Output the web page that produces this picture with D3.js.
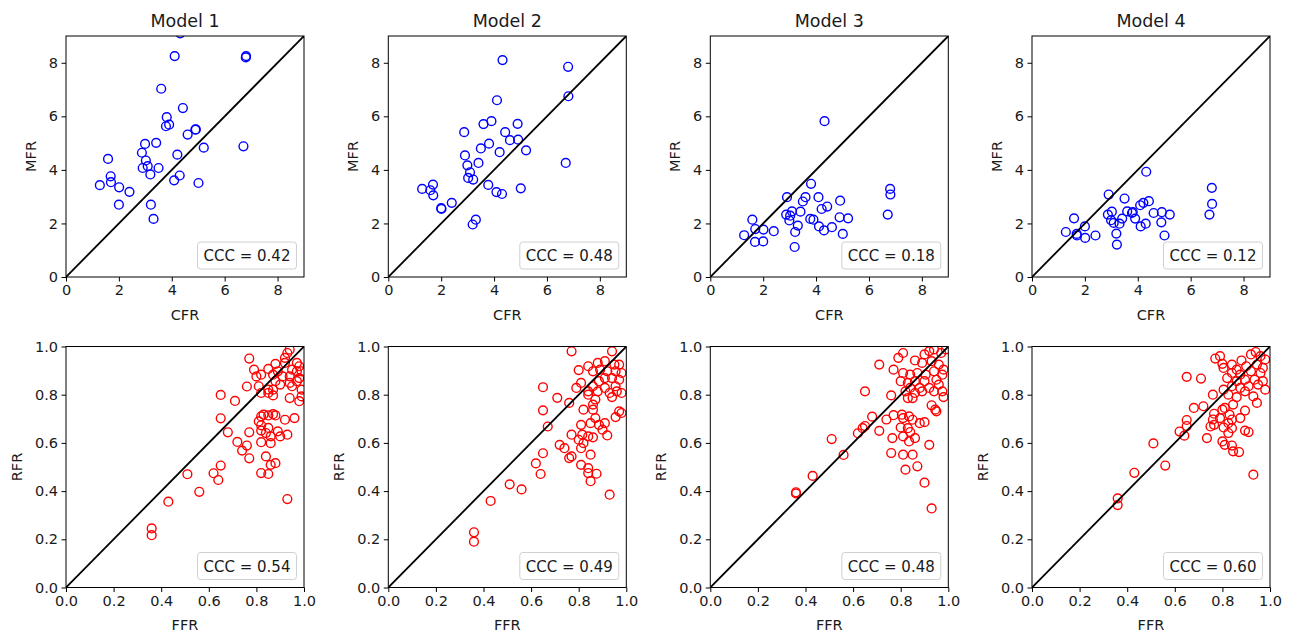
<!DOCTYPE html>
<html lang="en">
<head>
<meta charset="UTF-8">
<title>Model comparison</title>
<script src="https://d3js.org/d3.v7.min.js"></script>
<style>
  body { margin: 0; background: #fff; }
  svg text { font-family: "DejaVu Sans", sans-serif; fill: #1a1a1a; }
</style>
</head>
<body>
<div id="chart"></div>
<script>
const W = 1293, H = 633;

const models = ["Model 1", "Model 2", "Model 3", "Model 4"];

// top row: CFR (shared) vs MFR per model
const cfr = [1.28,1.59,1.69,1.70,2.00,2.01,2.40,2.87,2.90,2.99,3.02,3.09,3.19,3.21,3.31,3.41,3.50,3.60,
  3.78,3.81,3.90,4.09,4.11,4.21,4.30,4.32,4.42,4.60,4.89,4.91,5.01,5.21,6.71,6.80,6.81];
const mfr1 = [3.43,4.41,3.76,3.54,2.70,3.35,3.18,4.64,4.07,4.97,4.35,4.14,3.83,2.70,2.17,5.01,4.07,7.03,
  5.63,5.97,5.69,3.61,8.25,4.57,3.79,9.10,6.31,5.32,5.50,5.51,3.51,4.83,4.88,8.20,8.25];
const mfr2 = [3.29,3.24,3.45,3.05,2.57,2.54,2.77,5.41,4.54,4.17,3.70,3.91,1.96,3.64,2.14,4.26,4.80,5.71,
  3.44,4.98,5.82,3.17,6.60,4.66,3.10,8.10,5.41,5.11,5.72,5.13,3.31,4.73,4.26,7.85,6.75];
const mfr3 = [1.56,2.14,1.31,1.79,1.33,1.77,1.71,2.33,2.98,2.11,2.29,2.45,1.12,1.68,1.92,2.44,2.82,2.98,
  2.17,3.48,2.14,2.98,1.89,2.54,1.74,5.82,2.63,1.86,2.23,2.85,1.61,2.19,2.33,3.29,3.08];
const mfr4 = [1.68,2.19,1.61,1.55,1.89,1.46,1.55,2.33,3.08,2.12,2.44,2.02,1.62,1.21,1.99,2.18,2.93,2.45,
  2.39,2.42,2.18,2.68,1.89,2.77,1.99,3.93,2.83,2.39,2.04,2.42,1.55,2.33,2.33,3.33,2.73];

// bottom row: [FFR, RFR] pairs per model
const pts1 = [[0.36,0.245],[0.36,0.217],[0.43,0.356],[0.51,0.47],[0.56,0.397],[0.62,0.474],[0.64,0.446],
  [0.65,0.506],[0.65,0.702],[0.65,0.799],[0.68,0.644],[0.71,0.774],[0.72,0.604],[0.74,0.568],[0.76,0.589],
  [0.77,0.536],[0.77,0.644],[0.76,0.834],[0.77,0.95],[0.93,0.367],
  [0.79,0.904],[0.80,0.876],[0.82,0.883],[0.85,0.907],[0.88,0.928],[0.92,0.953],[0.93,0.973],[0.94,0.987],
  [0.92,0.932],[0.97,0.932],[0.98,0.918],[0.95,0.904],[0.97,0.897],[0.99,0.897],[0.89,0.897],[0.87,0.883],
  [0.91,0.876],[0.94,0.876],[0.98,0.869],[0.88,0.856],[0.90,0.842],[0.94,0.849],[0.97,0.856],[0.81,0.835],
  [0.85,0.821],[0.87,0.821],[0.85,0.807],[0.82,0.807],[0.87,0.797],[0.95,0.835],[0.99,0.821],[0.94,0.786],
  [0.98,0.773],[0.99,0.793],
  [0.82,0.71],[0.83,0.717],[0.85,0.714],[0.87,0.719],[0.88,0.714],[0.92,0.696],[0.96,0.703],[0.81,0.689],
  [0.82,0.673],[0.82,0.651],[0.85,0.662],[0.89,0.648],[0.84,0.641],[0.86,0.627],[0.90,0.627],[0.93,0.634],
  [0.82,0.603],[0.86,0.599],[0.84,0.544],[0.86,0.509],[0.88,0.516],[0.82,0.475],[0.85,0.471]];
const pts2 = [[0.36,0.229],[0.36,0.19],[0.43,0.359],[0.51,0.428],[0.56,0.407],[0.62,0.515],[0.64,0.471],
  [0.65,0.557],[0.77,0.98],[0.94,0.98],[0.80,0.902],[0.84,0.918],[0.88,0.932],[0.91,0.939],[0.95,0.925],
  [0.97,0.925],[0.86,0.897],[0.89,0.904],[0.92,0.897],[0.955,0.897],[0.98,0.89],[0.91,0.869],[0.94,0.869],
  [0.97,0.862],[0.81,0.849],[0.885,0.856],[0.86,0.835],[0.91,0.828],[0.955,0.835],[0.79,0.828],[0.84,0.814],
  [0.88,0.814],[0.93,0.807],[0.96,0.814],[0.98,0.807],[0.94,0.79],[0.84,0.80],[0.87,0.78],[0.86,0.759],
  [0.76,0.766],[0.65,0.831],[0.71,0.787],[0.65,0.735],[0.82,0.738],[0.86,0.738],[0.97,0.731],[0.98,0.724],
  [0.955,0.707],[0.87,0.703],[0.67,0.668],[0.81,0.675],[0.85,0.682],[0.885,0.675],[0.91,0.682],[0.90,0.655],
  [0.92,0.631],[0.77,0.634],[0.815,0.634],[0.84,0.627],[0.86,0.623],[0.80,0.613],[0.82,0.599],[0.72,0.592],
  [0.74,0.578],[0.81,0.578],[0.77,0.544],[0.76,0.537],[0.85,0.551],[0.81,0.509],[0.84,0.495],[0.84,0.475],
  [0.875,0.472],[0.85,0.441],[0.93,0.385]];
const pts3 = [[0.36,0.395],[0.36,0.39],[0.43,0.463],[0.51,0.616],[0.56,0.55],[0.62,0.64],[0.64,0.661],
  [0.65,0.67],[0.68,0.709],[0.71,0.65],[0.93,0.328],[0.90,0.435],
  [0.81,0.973],[0.79,0.953],[0.71,0.925],[0.77,0.904],[0.86,0.942],[0.90,0.967],[0.92,0.981],[0.94,0.988],
  [0.97,0.973],[0.99,0.988],[0.89,0.932],[0.93,0.939],[0.96,0.925],[0.98,0.904],[0.81,0.89],[0.84,0.883],
  [0.87,0.89],[0.905,0.883],[0.94,0.897],[0.975,0.883],[0.80,0.856],[0.83,0.849],[0.86,0.856],[0.90,0.856],
  [0.95,0.862],[0.96,0.842],[0.84,0.828],[0.88,0.828],[0.92,0.828],[0.975,0.814],[0.82,0.814],[0.86,0.807],
  [0.89,0.814],[0.94,0.814],[0.98,0.79],[0.83,0.786],[0.85,0.786],[0.65,0.814],[0.76,0.797],[0.93,0.756],
  [0.945,0.738],[0.95,0.731],[0.74,0.697],[0.77,0.715],[0.805,0.717],[0.81,0.703],[0.835,0.71],[0.85,0.696],
  [0.88,0.682],[0.90,0.686],[0.80,0.664],[0.83,0.661],[0.84,0.645],[0.81,0.627],[0.86,0.62],[0.765,0.62],
  [0.835,0.606],[0.92,0.592],[0.76,0.558],[0.81,0.551],[0.85,0.551],[0.87,0.503],[0.82,0.489]];
const pts4 = [[0.36,0.37],[0.36,0.342],[0.43,0.476],[0.51,0.598],[0.56,0.506],[0.62,0.647],[0.64,0.63],
  [0.65,0.695],[0.65,0.67],
  [0.77,0.95],[0.79,0.96],[0.80,0.928],[0.805,0.911],[0.65,0.874],[0.71,0.867],[0.84,0.925],[0.88,0.942],
  [0.92,0.967],[0.94,0.977],[0.96,0.96],[0.98,0.946],[0.86,0.904],[0.90,0.918],[0.945,0.925],[0.97,0.911],
  [0.84,0.89],[0.875,0.883],[0.92,0.897],[0.96,0.89],[0.82,0.869],[0.86,0.856],[0.895,0.862],[0.935,0.862],
  [0.97,0.856],[0.805,0.821],[0.84,0.835],[0.875,0.828],[0.91,0.835],[0.95,0.842],[0.98,0.821],[0.76,0.80],
  [0.825,0.80],[0.86,0.79],[0.895,0.814],[0.93,0.793],[0.945,0.766],[0.72,0.752],[0.68,0.745],[0.80,0.738],
  [0.81,0.745],[0.845,0.759],[0.895,0.734],[0.765,0.721],[0.83,0.717],[0.76,0.697],[0.79,0.703],[0.84,0.697],
  [0.875,0.703],[0.765,0.675],[0.825,0.682],[0.75,0.668],[0.805,0.664],[0.84,0.661],[0.825,0.641],
  [0.895,0.651],[0.91,0.645],[0.735,0.62],[0.80,0.606],[0.81,0.592],[0.84,0.589],[0.845,0.565],[0.87,0.562],
  [0.93,0.468]];

const cccTop = ["0.42", "0.48", "0.18", "0.12"];
const cccBottom = ["0.54", "0.49", "0.48", "0.60"];
const topTicks = [0, 2, 4, 6, 8];
const bottomTicks = [0, 0.2, 0.4, 0.6, 0.8, 1.0];

const mfrSets = [mfr1, mfr2, mfr3, mfr4];
const bottomSets = [pts1, pts2, pts3, pts4];

const lefts = [66, 388.3, 710.3, 1032];
const pw = 238, ph = 241;
const tops = [36, 346.5];

const svg = d3.select("#chart").append("svg")
  .attr("width", W).attr("height", H);

function panel(id, left, top, maxV, ticks, fmt, data, color, xLab, yLab, ccc, title, yLabOff) {
  const x = d3.scaleLinear().domain([0, maxV]).range([0, pw]);
  const y = d3.scaleLinear().domain([0, maxV]).range([ph, 0]);
  const g = svg.append("g").attr("transform", `translate(${left},${top})`);

  g.append("clipPath").attr("id", "clip" + id)
    .append("rect").attr("width", pw).attr("height", ph);

  const xa = g.append("g").attr("transform", `translate(0,${ph})`)
    .call(d3.axisBottom(x).tickValues(ticks).tickFormat(fmt).tickSize(4.5).tickPadding(3.5).tickSizeOuter(0));
  const ya = g.append("g")
    .call(d3.axisLeft(y).tickValues(ticks).tickFormat(fmt).tickSize(4.5).tickPadding(3.5).tickSizeOuter(0));
  [xa, ya].forEach(a => {
    a.select(".domain").remove();
    a.selectAll("line").attr("stroke", "#000").attr("stroke-width", 1);
    a.selectAll("text").attr("font-size", 14.5).attr("fill", "#1a1a1a")
      .attr("font-family", "DejaVu Sans, sans-serif");
  });

  const plot = g.append("g").attr("clip-path", `url(#clip${id})`);
  plot.selectAll("circle").data(data).enter().append("circle")
    .attr("cx", d => x(d[0])).attr("cy", d => y(d[1])).attr("r", 4.4)
    .attr("fill", "none").attr("stroke", color).attr("stroke-width", 1.4);

  plot.append("line")
    .attr("x1", x(0)).attr("y1", y(0)).attr("x2", x(maxV)).attr("y2", y(maxV))
    .attr("stroke", "#000").attr("stroke-width", 1.8);

  g.append("rect").attr("width", pw).attr("height", ph)
    .attr("fill", "none").attr("stroke", "#000").attr("stroke-width", 1);

  // legend box
  const bw = 99, bh = 27;
  const bx = pw - 7.5 - bw, by = ph - 8 - bh;
  g.append("rect").attr("x", bx).attr("y", by).attr("width", bw).attr("height", bh)
    .attr("rx", 3).attr("fill", "#fff").attr("fill-opacity", 0.8)
    .attr("stroke", "#d0d0d0").attr("stroke-width", 1);
  g.append("text").attr("x", bx + bw / 2).attr("y", by + bh - 8)
    .attr("text-anchor", "middle").attr("font-size", 15).text("CCC = " + ccc);

  g.append("text").attr("x", pw / 2).attr("y", ph + 42.5)
    .attr("text-anchor", "middle").attr("font-size", 14.5).text(xLab);
  g.append("text")
    .attr("transform", `translate(${-yLabOff},${ph / 2}) rotate(-90)`)
    .attr("text-anchor", "middle").attr("font-size", 14.5).text(yLab);

  if (title) {
    g.append("text").attr("x", pw / 2).attr("y", -8.7)
      .attr("text-anchor", "middle").attr("font-size", 17.5).text(title);
  }
}

models.forEach((m, i) => {
  const topData = cfr.map((c, j) => [c, mfrSets[i][j]]);
  panel("t" + i, lefts[i], tops[0], 9, topTicks, d3.format("d"), topData, "#0000ff",
    "CFR", "MFR", cccTop[i], m, 30);
  panel("b" + i, lefts[i], tops[1], 1, bottomTicks, d3.format(".1f"), bottomSets[i], "#ff0000",
    "FFR", "RFR", cccBottom[i], null, 44);
});
</script>
</body>
</html>
